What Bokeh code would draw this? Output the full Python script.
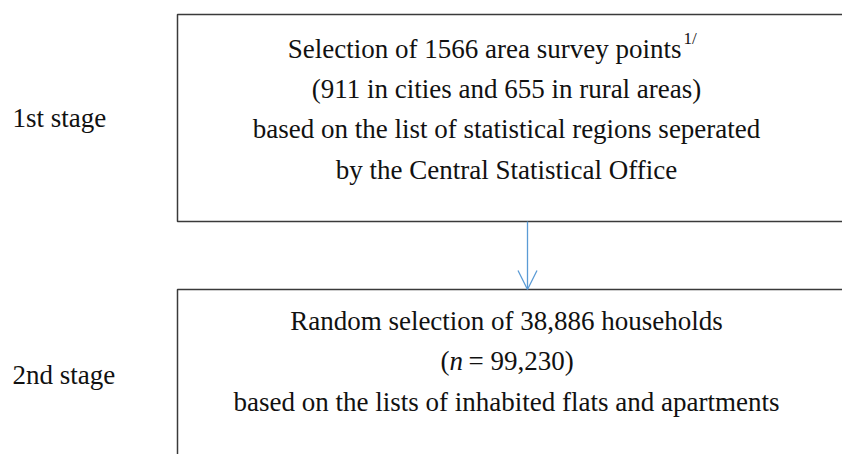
from bokeh.plotting import figure
from bokeh.models import Range1d, Arrow, OpenHead
from bokeh.core.properties import value
from bokeh.embed import file_html
from bokeh.resources import INLINE

# ---- content ----
stage_labels = ["1st stage", "2nd stage"]
box1_lines = ["Selection of 1566 area survey points",
              "(911 in cities and 655 in rural areas)",
              "based on the list of statistical regions seperated",
              "by the Central Statistical Office"]
box1_sup = "1/"
box2_lines = ["Random selection of 38,886 households",
              "",
              "based on the lists of inhabited flats and apartments"]
box2_n_parts = ["(", "n", "= 99,230)"]

# ---- layout (screen pixel coordinates of the picture) ----
W, H = 842, 454
FONT = value("Liberation Serif")
FS = "27px"
TXT = "#111111"
BOX = "#3a3a3a"

p = figure(width=W, height=H, output_backend="svg", toolbar_location=None,
           x_range=Range1d(0, W), y_range=Range1d(H, 0),
           min_border=0, outline_line_color=None)
p.axis.visible = False
p.grid.visible = False

# box edges (right / bottom edges run off the page)
p.multi_line(xs=[[1000, 177, 177, 1000], [1000, 177, 177]],
             ys=[[14, 14, 221, 221], [289, 289, 700]],
             line_color=BOX, line_width=1.5)

# arrow between the boxes
p.add_layout(Arrow(x_start=527, y_start=221, x_end=527, y_end=289,
                   line_color="#5b9bd5", line_width=1.3,
                   end=OpenHead(size=19, line_color="#5b9bd5", line_width=1.3)))

# stage labels
p.text(x=[12, 12], y=[117, 374], text=stage_labels, text_font=FONT,
       text_font_size=FS, text_color=TXT, text_align="left",
       text_baseline="alphabetic")

# box 1 text
cx = 506
p.text(x=[681], y=[48], text=[box1_lines[0]], text_font=FONT, text_font_size=FS,
       text_color=TXT, text_align="right", text_baseline="alphabetic")
p.text(x=[683], y=[38], text=[box1_sup], text_font=FONT, text_font_size="17px",
       text_color=TXT, text_align="left", text_baseline="alphabetic")
p.text(x=[cx] * 3, y=[88, 128, 169], text=box1_lines[1:], text_font=FONT,
       text_font_size=FS, text_color=TXT, text_align="center",
       text_baseline="alphabetic")

# box 2 text
p.text(x=[cx, cx], y=[320, 401], text=[box2_lines[0], box2_lines[2]],
       text_font=FONT, text_font_size=FS, text_color=TXT, text_align="center",
       text_baseline="alphabetic")
p.text(x=[449], y=[360], text=[box2_n_parts[0]], text_font=FONT, text_font_size=FS,
       text_color=TXT, text_align="right", text_baseline="alphabetic")
p.text(x=[449], y=[360], text=[box2_n_parts[1]], text_font=FONT, text_font_size=FS,
       text_font_style="italic", text_color=TXT, text_align="left",
       text_baseline="alphabetic")
p.text(x=[468], y=[360], text=[box2_n_parts[2]], text_font=FONT, text_font_size=FS,
       text_color=TXT, text_align="left", text_baseline="alphabetic")

open("out.html", "w").write(file_html(p, INLINE))
